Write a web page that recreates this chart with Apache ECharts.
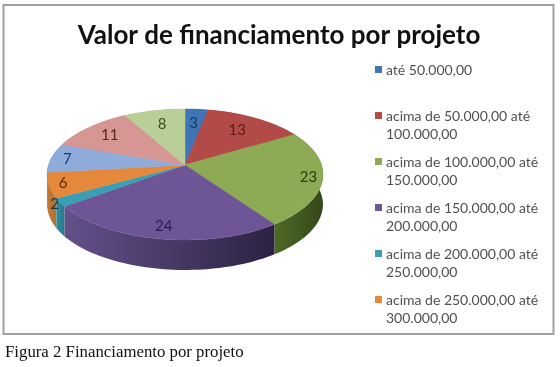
<!DOCTYPE html>
<html><head><meta charset="utf-8">
<style>html,body{margin:0;padding:0;background:#fff}#c{width:560px;height:367px}</style>
<script src="https://cdn.jsdelivr.net/npm/echarts@6/dist/echarts.min.js"></script>
</head><body><div id="c"></div>
<script>
const categories = ["até 50.000,00","acima de 50.000,00 até\n100.000,00","acima de 100.000,00 até\n150.000,00","acima de 150.000,00 até\n200.000,00","acima de 200.000,00 até\n250.000,00","acima de 250.000,00 até\n300.000,00","acima de 300.000,00","acima de 350.000,00","acima de 400.000,00"];
const values = [3,13,23,24,2,6,7,11,8];
const legendCount = 6;
const topColors = ["#3f74b5","#b24a48","#8dab55","#6e5596","#3a9fb5","#e5883b","#8fabd9","#d69694","#bace98"];
const wallLeft = ["#2c5488","#7e3230","#4d6a26","#64508a","#2f8c9e","#c27a38","#6a82aa","#a56f6d","#8a9c6e"];
const wallRight = ["#2c5488","#7e3230","#35481a","#2c2242","#2a7a8a","#b8702e","#6a82aa","#a56f6d","#8a9c6e"];
const labelColors = ["#1c3a66","#5a1a18","#2d3f10","#2c1c52","#103c48","#5a2c06","#1c3a72","#5a2422","#3a5020"];
const labelRadii = [0.72,0.72,0.9,0.85,1.04,0.9,0.88,0.77,0.72];

const apexX=185, apexY=165, a=136.5, b=64.1, k=0.145, depth=30;
const total = values.reduce((s,v)=>s+v,0);
function project(theta,r){
  const u=r*Math.sin(theta), v=-r*Math.cos(theta), w=1-k*v;
  return [apexX+a*u/w, apexY+b*v/w];
}
function renderSlice(i){
  const start=values.slice(0,i).reduce((s,v)=>s+v,0)/total*2*Math.PI;
  const end=start+values[i]/total*2*Math.PI;
  const n=Math.max(4,Math.ceil((end-start)/0.03));
  const arc=[];
  for(let j=0;j<=n;j++) arc.push(project(start+(end-start)*j/n,1));
  const wall=arc.concat(arc.slice().reverse().map(p=>[p[0],p[1]+depth]));
  const mid=(start+end)/2, lp=project(mid,labelRadii[i]);
  return {type:'group',children:[
    {type:'polygon',z2:1+Math.round(5*(1-Math.cos(mid))),shape:{points:wall},
     style:{fill:new echarts.graphic.LinearGradient(0,0,1,0,[{offset:0,color:wallLeft[i]},{offset:1,color:wallRight[i]}])}},
    {type:'polygon',z2:20,shape:{points:[[apexX,apexY]].concat(arc)},
     style:{fill:topColors[i],stroke:topColors[i],lineWidth:0.5}},
    {type:'text',z2:30,style:{text:String(values[i]),x:lp[0],y:lp[1],align:'center',verticalAlign:'middle',
     fill:labelColors[i],font:'15px Lato'}}
  ]};
}
const legendIcon='path://M0 0H7V7H0Z M0 26L0.01 26';
const chart=echarts.init(document.getElementById('c'),null,{renderer:'canvas'});
chart.setOption({
  animation:false,
  backgroundColor:'#fff',
  title:{text:'Valor de financiamento por projeto',left:274,top:18,textAlign:'center',
    textStyle:{fontFamily:'Lato',fontWeight:'bold',fontSize:26,color:'#111'}},
  legend:{data:categories.slice(0,legendCount).map((c,i)=>({name:c,icon:legendIcon})),
    orient:'vertical',left:370,top:56,itemWidth:7,itemHeight:26,itemGap:10,selectedMode:false,
    formatter:n=>n.includes('\n')?n:n+'\n\u00a0',
    textStyle:{fontFamily:'Lato',fontSize:14,color:'#505050',lineHeight:18,padding:[0,0,0,-1]}},
  graphic:[
    {type:'rect',z:-1,shape:{x:3.5,y:5,width:550,height:329},style:{fill:'#fff',stroke:'#a0a0a0',lineWidth:2}},
    {type:'text',left:5,top:344,style:{text:'Figura 2 Financiamento por projeto',font:'16.8px "Liberation Serif"',fill:'#111'}}
  ],
  series:categories.map((name,i)=>({
    type:'custom',name,coordinateSystem:'none',data:[values[i]],
    itemStyle:{color:topColors[i]},
    renderItem:()=>renderSlice(i)
  }))
});
</script></body></html>
